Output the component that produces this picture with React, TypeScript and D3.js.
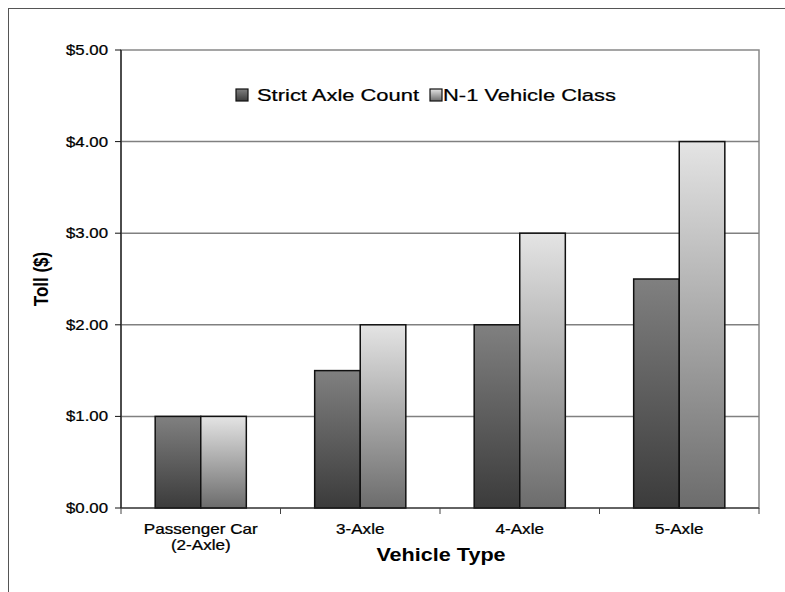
import React from "react";
import * as d3 from "d3";

const categories = ["Passenger Car\n(2-Axle)", "3-Axle", "4-Axle", "5-Axle"];
const seriesNames = ["Strict Axle Count", "N-1 Vehicle Class"];
const strictAxle = [1.0, 1.5, 2.0, 2.5];
const nMinus1 = [1.0, 2.0, 3.0, 4.0];
const yTicks = [0, 1, 2, 3, 4, 5];
const yTitle = "Toll ($)";
const xTitle = "Vehicle Type";

const W = 785;
const H = 592;
const plot = { left: 121, right: 759, top: 50, bottom: 508 };
const SX = 1.2; // horizontal text stretch seen in the reference
const FONT = "Liberation Sans, Arial, sans-serif";

export default function App() {
  const x0 = d3.scaleBand<string>().domain(categories).range([plot.left, plot.right]).padding(0);
  const x1 = d3.scaleBand<string>().domain(seriesNames).range([0, x0.bandwidth()]).paddingInner(0).paddingOuter(0.75);
  const y = d3.scaleLinear().domain([0, 5]).range([plot.bottom, plot.top]);
  const series = [strictAxle, nMinus1];
  const fills = ["url(#gStrict)", "url(#gN1)"];
  const fmt = (v: number) => "$" + d3.format(".2f")(v);
  const thin = { stroke: "#000", strokeWidth: 0.25 };

  return (
    <svg width={W} height={H} style={{ position: "absolute", left: 0, top: 0, display: "block" }} fontFamily={FONT}>
      <defs>
        <linearGradient id="gStrict" x1="0" y1="0" x2="0" y2="1">
          <stop offset="0" stopColor="#808080" />
          <stop offset="1" stopColor="#3b3b3b" />
        </linearGradient>
        <linearGradient id="gN1" x1="0" y1="0" x2="0" y2="1">
          <stop offset="0" stopColor="#e4e4e4" />
          <stop offset="1" stopColor="#6c6c6c" />
        </linearGradient>
      </defs>
      <rect x={0} y={0} width={W} height={H} fill="#fff" />
      {/* outer frame */}
      <line x1={8} y1={8.5} x2={W} y2={8.5} stroke="#555" strokeWidth={1} />
      <line x1={8.5} y1={8} x2={8.5} y2={H} stroke="#555" strokeWidth={1} />

      {/* plot border */}
      <rect x={plot.left} y={plot.top} width={plot.right - plot.left} height={plot.bottom - plot.top} fill="#fff" stroke="#888" strokeWidth={1.5} />
      {/* gridlines */}
      {yTicks.filter((t) => t > 0 && t < 5).map((t) => (
        <line key={t} x1={plot.left} x2={plot.right} y1={y(t)} y2={y(t)} stroke="#808080" strokeWidth={1.5} />
      ))}

      {/* bars */}
      {categories.map((c, i) => (
        <g key={c}>
          {seriesNames.map((s, j) => {
            const v = series[j][i];
            return (
              <rect key={s} x={(x0(c) as number) + (x1(s) as number)} y={y(v)} width={x1.bandwidth()} height={y(0) - y(v)} fill={fills[j]} stroke="#111" strokeWidth={1.5} />
            );
          })}
        </g>
      ))}

      {/* axes */}
      <line x1={plot.left} x2={plot.left} y1={plot.top} y2={plot.bottom} stroke="#111" strokeWidth={1.2} />
      <line x1={plot.left} x2={plot.right} y1={plot.bottom} y2={plot.bottom} stroke="#222" strokeWidth={1.2} />
      {yTicks.map((t) => (
        <g key={t}>
          <line x1={plot.left - 6} x2={plot.left} y1={y(t)} y2={y(t)} stroke="#111" strokeWidth={1} />
          <text transform={`translate(108,${y(t) + 5}) scale(${SX},1)`} textAnchor="end" fontSize={14} fill="#000" {...thin}>{fmt(t)}</text>
        </g>
      ))}
      {[...categories.map((c) => x0(c) as number), plot.right].map((xv, i) => (
        <line key={i} x1={xv} x2={xv} y1={plot.bottom} y2={plot.bottom + 6} stroke="#444" strokeWidth={1} />
      ))}
      {categories.map((c) => {
        const cx = (x0(c) as number) + x0.bandwidth() / 2;
        return c.split("\n").map((line, k) => (
          <text key={c + k} transform={`translate(${cx},${534 + k * 15.5}) scale(1.22,1)`} textAnchor="middle" fontSize={14} fill="#000" {...thin}>{line}</text>
        ));
      })}

      {/* titles */}
      <text transform={`translate(441,561) scale(${SX},1)`} textAnchor="middle" fontSize={18} fontWeight="bold" fill="#000">{xTitle}</text>
      <text transform={`translate(48,279) scale(${SX},1) rotate(-90)`} textAnchor="middle" fontSize={17} fontWeight="bold" fill="#000">{yTitle}</text>

      {/* legend */}
      {seriesNames.map((s, j) => {
        const sx = [236, 430][j];
        const tx = [257, 443][j];
        return (
          <g key={s}>
            <rect x={sx} y={89} width={12} height={12} fill={fills[j]} stroke="#111" strokeWidth={1.2} />
            <text transform={`translate(${tx},101) scale(1.29,1)`} fontSize={17} fill="#000" {...thin}>{s}</text>
          </g>
        );
      })}
    </svg>
  );
}
